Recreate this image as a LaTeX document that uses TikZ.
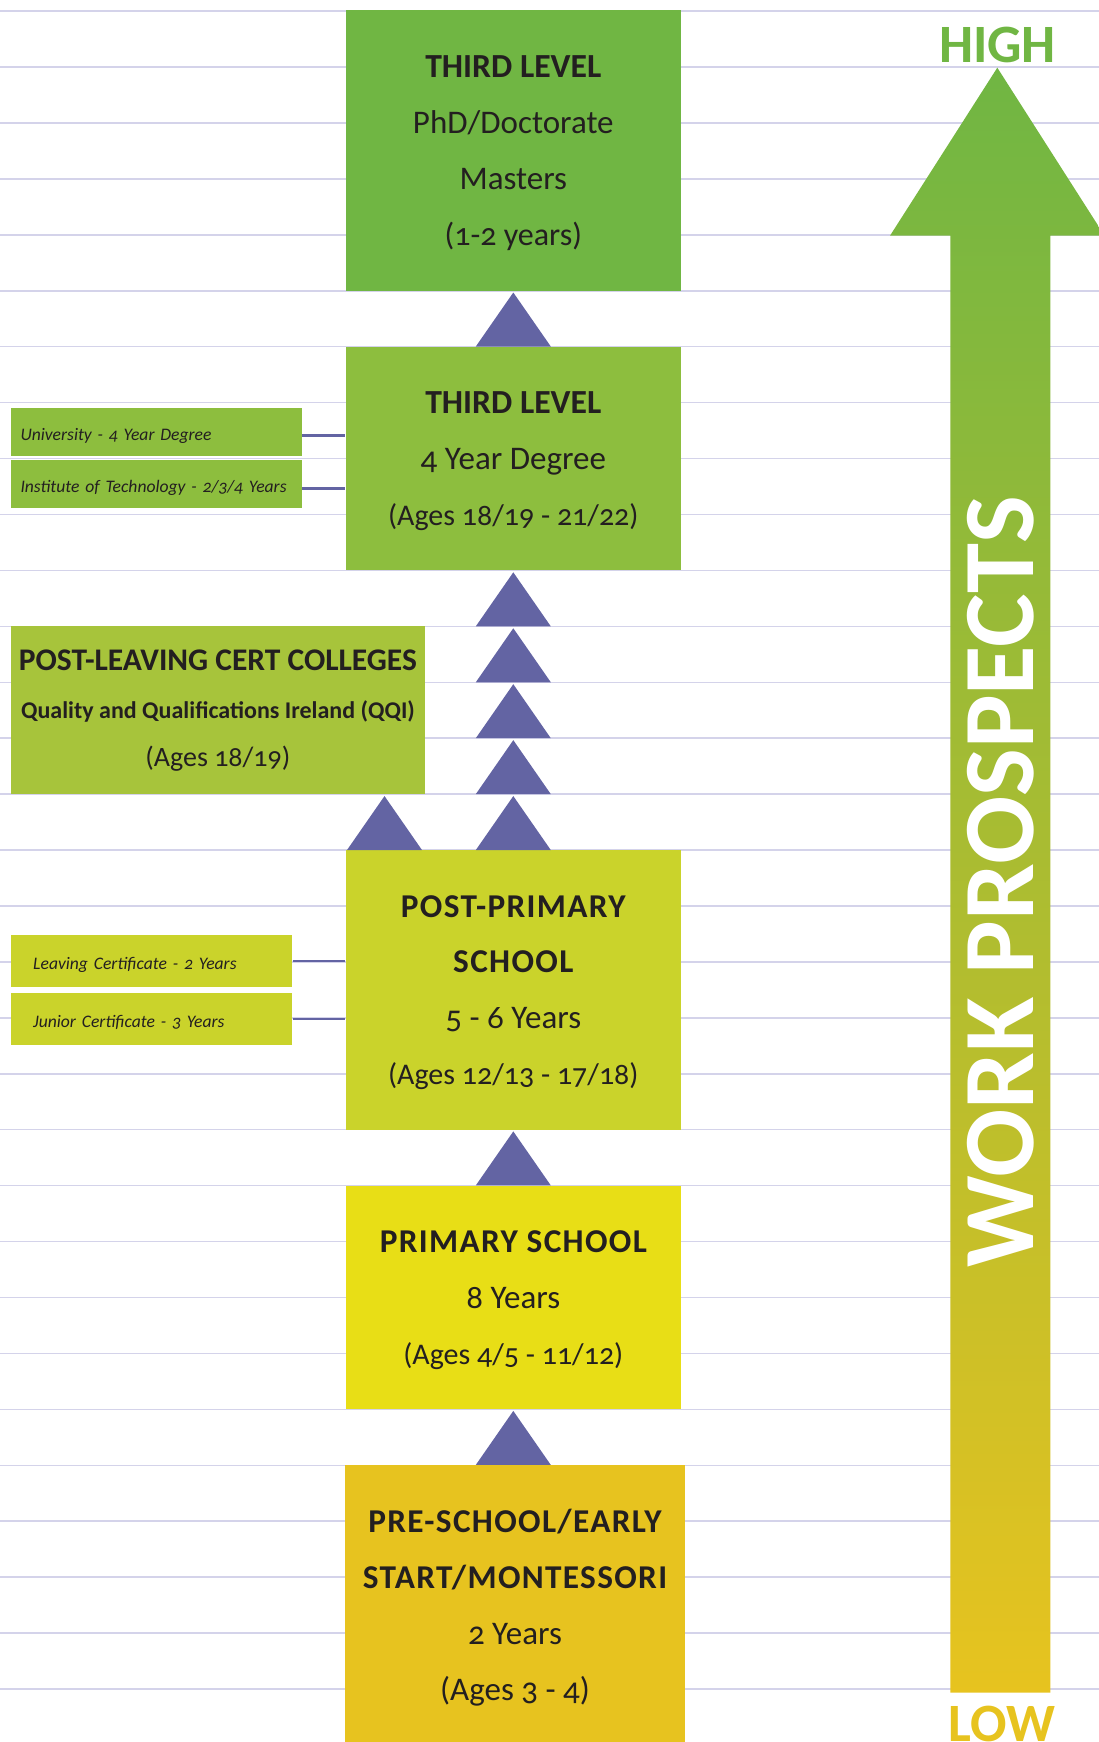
\documentclass[tikz,border=0pt]{standalone}
\usepackage{fontspec}
\setmainfont{Carlito}[Numbers=OldStyle]
\usepackage{tikz}

\definecolor{lvlA}{HTML}{70B643}
\definecolor{lvlB}{HTML}{8DBE3E}
\definecolor{lvlC}{HTML}{A7C43B}
\definecolor{lvlD}{HTML}{CAD32B}
\definecolor{lvlE}{HTML}{E8DE16}
\definecolor{lvlF}{HTML}{E7C31F}
\definecolor{tricol}{HTML}{6364A3}
\definecolor{rulecol}{HTML}{D4D3EA}
\definecolor{ink}{HTML}{231F20}

\newcommand\fs[2]{\fontsize{#1}{#2}\selectfont}
\newcommand\lns[2][46pt]{\rule[-12pt]{0pt}{#1}#2\rule[-12pt]{0pt}{#1}}
\newcommand\hd[1]{{\bfseries\fontsize{33.3}{55.93}\selectfont\addfontfeature{LetterSpace=4}#1}}
\newcommand\ag[1]{{\fs{30}{55.93}#1}}
\newcommand\uptri[1]{\fill[tricol] (#1) ++(-37.5,0) -- ++(75,0) -- ++(-37.5,-54) -- cycle;}

\begin{document}
\begin{tikzpicture}[x=1pt,y=-1pt,
	every node/.style={inner sep=0pt,text=ink},
	stage/.style={fill=#1,minimum width=335.5pt,align=center,font=\fs{33}{55.93}},
	side/.style={fill=#1,align=left,text height=17.5pt,text depth=0pt,font=\fs{17.6}{22}\itshape},
	gridline/.style={rulecol,line width=1.5pt},
	link/.style={tricol,line width=2.6pt}]
	\useasboundingbox (0,0) rectangle (1099,1742);
	\clip (0,0) rectangle (1099,1742);
	\foreach \k in {0,...,30}
		\draw[gridline] (0,{11.1+\k*55.93}) -- (1099,{11.1+\k*55.93});
	\shade[top color=lvlA,bottom color=lvlF] (997.3,67.7) -- (1104.6,235.7) -- (1050.3,235.7) -- (1050.3,1692.7)
		-- (950.3,1692.7) -- (950.3,235.7) -- (890,235.7) -- cycle;
	\node[text=lvlA,font=\fs{54}{60}\bfseries] (high) at (997.5,44.7) {HIGH};
	\node[text=lvlF,font=\fs{54}{60}\bfseries,anchor=north] (low) at (1002,1706) {LOW};
	\node[text=white,font=\fs{101}{110}\bfseries,rotate=90] (work) at (1001,882) {WORK PROSPECTS};
	\node[stage=lvlA,minimum height=280.8pt] (phd) at (513.3,150.4)
		{\lns{\textbf{\fs{33.7}{55.93}THIRD LEVEL}\\PhD/Doctorate\\Masters\\{\fs{32}{55.93}(1-2 years)}}};
	\node[stage=lvlB,minimum height=223.7pt] (deg) at (513.3,458.55)
		{\lns{\textbf{\fs{33.7}{55.93}THIRD LEVEL}\\4 Year Degree\\\ag{(Ages 18/19 - 21/22)}}};
	\node[stage=lvlC,minimum width=413.4pt,minimum height=168.4pt,font=\fs{28}{48}] (plc) at (217.9,709.8)
		{\lns[41pt]{\textbf{\fs{31.5}{48}POST-LEAVING CERT COLLEGES}\\\textbf{\fs{24}{48}Quality and Qualifications Ireland (QQI)}\\(Ages 18/19)}};
	\node[stage=lvlD,minimum height=279.6pt] (post) at (513.3,989.9)
		{\lns{\hd{POST-PRIMARY}\\\hd{SCHOOL}\\5 - 6 Years\\\ag{(Ages 12/13 - 17/18)}}};
	\node[stage=lvlE,minimum height=223.8pt] (prim) at (513.3,1297.5)
		{\lns{\hd{PRIMARY SCHOOL}\\8 Years\\\ag{(Ages 4/5 - 11/12)}}};
	\node[stage=lvlF,minimum width=339.5pt,minimum height=280pt] (pre) at (515,1605.1)
		{\lns{\hd{PRE-SCHOOL/EARLY}\\\hd{START/MONTESSORI}\\2 Years\\(Ages 3 - 4)}};
	\node[side=lvlB,text width=272pt,inner xsep=9.3pt,minimum height=47.5pt] (uni) at (156.5,432)
		{University - 4 Year Degree};
	\node[side=lvlB,text width=272pt,inner xsep=9.3pt,minimum height=47.5pt] (iot) at (156.5,483.9)
		{Institute of Technology - 2/3/4 Years};
	\node[side=lvlD,text width=237.2pt,inner xsep=22pt,minimum height=51.7pt] (lc) at (151.8,960.9)
		{Leaving Certificate - 2 Years};
	\node[side=lvlD,text width=237.2pt,inner xsep=22pt,minimum height=51.7pt] (jc) at (151.8,1018.9)
		{Junior Certificate - 3 Years};
	\draw[link] ([yshift=-3.5pt]uni.east) -- ([yshift=-3.5pt]uni.east -| deg.west);
	\draw[link] ([yshift=-4.5pt]iot.east) -- ([yshift=-4.5pt]iot.east -| deg.west);
	\draw[link] (lc.east) -- (lc.east -| post.west);
	\draw[link] (jc.east) -- (jc.east -| post.west);
	\uptri{deg.north}
	\foreach \k in {11,...,15}
		{\uptri{513.3,{11.1+\k*55.93}}}
	\uptri{384.5,{11.1+15*55.93}}
	\uptri{prim.north}
	\uptri{prim.south |- pre.north}
\end{tikzpicture}
\end{document}
